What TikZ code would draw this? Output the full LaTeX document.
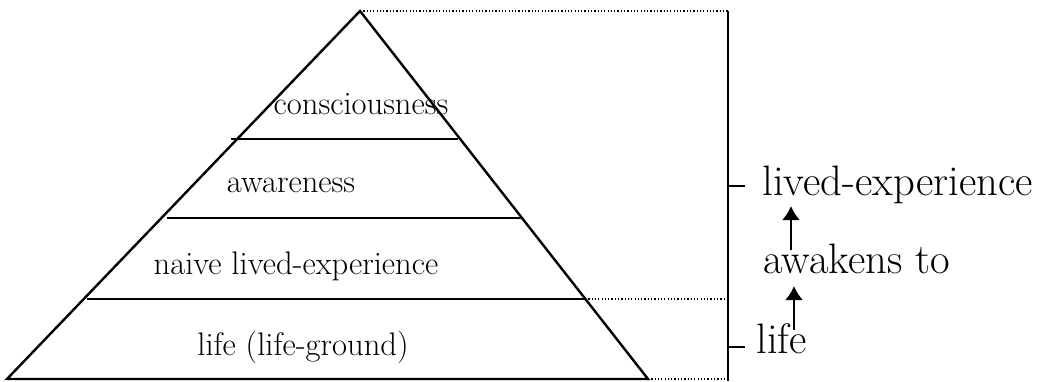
\documentclass[tikz,border=0pt]{standalone}
\usepackage{tikz}
\usetikzlibrary{calc, arrows.meta}
\tikzset{>=latex}

\begin{document}
\begin{tikzpicture}[
    x = 0.5pt, y = -0.5pt,
    d0/.style = {line width = 1.2pt},
    dt/.style = {line width = 0.6pt, dash pattern = on 0.6pt off 1.05pt},
    ar/.style = {line width = 1.2pt, -{Latex[length=7pt, width=9pt]}},
    inlab/.style = {anchor = base, inner sep = 0pt, font = \fontsize{16.3}{19}\selectfont},
    outlab/.style = {anchor = base west, inner sep = 0pt, font = \fontsize{21.3}{25}\selectfont},
]
\useasboundingbox (0,0) rectangle (1038,381);

% pyramid
\coordinate (top) at (360,11);
\coordinate (bl) at (7,379);
\coordinate (br) at (648,379);
\draw[d0, line join = miter] (bl) -- (top) -- (br) -- cycle;

\coordinate (l1a) at (231,139); \coordinate (l1b) at (458,139);
\coordinate (l2a) at (167,218); \coordinate (l2b) at (522,218);
\coordinate (l3a) at (87,299);  \coordinate (l3b) at (585,299);
\draw[d0] (l1a) -- (l1b);
\draw[d0] (l2a) -- (l2b);
\draw[d0] (l3a) -- (l3b);

\node[inlab] (cons) at (361,114) {consciousness};
\node[inlab] (aware) at (291,192) {awareness};
\node[inlab] (naive) at (296,274) {naive lived-experience};
\node[inlab] (life) at (303,355) {life (life-ground)};

% scale on the right
\coordinate (vtop) at (728,11);
\coordinate (vbot) at (728,381);
\draw[d0] (vtop) -- (vbot);
\draw[dt] (top) -- (vtop);
\draw[dt] (l3b) -- (l3b -| vtop);
\draw[dt] (br) -- (br -| vtop);

\coordinate (t1) at (745,186);
\coordinate (t2) at (745,347);
\draw[d0] (t1 -| vtop) -- (t1);
\draw[d0] (t2 -| vtop) -- (t2);

\node[outlab] (lived) at (762,195) {lived-experience};
\node[outlab] (awake) at (763,273) {awakens to};
\node[outlab] (rlife) at (756,353) {life};

\coordinate (a1) at (791,250);
\coordinate (a2) at (794,330);
\draw[ar] (a1) -- ($(a1)+(0,-44)$);
\draw[ar] (a2) -- ($(a2)+(0,-44)$);

\end{tikzpicture}
\end{document}
